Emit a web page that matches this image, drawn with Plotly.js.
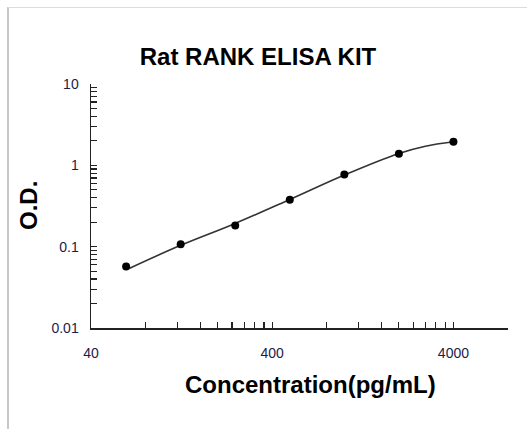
<!DOCTYPE html>
<html>
<head>
<meta charset="utf-8">
<script src="https://cdn.plot.ly/plotly-3.0.1.min.js"></script>
<style>
html,body{margin:0;padding:0;background:#fff;}
#frame{position:absolute;left:7px;top:7px;width:600px;height:500px;border-left:2px solid #c8c8c8;border-top:1px solid #dcdcdc;}
#chart{position:absolute;left:0;top:0;width:527px;height:429px;}
</style>
</head>
<body>
<div id="frame"></div>
<div id="chart"></div>
<script>
// Measured standards
const concentration = [62.5, 125, 250, 500, 1000, 2000, 4000];
const od = [0.057, 0.107, 0.182, 0.377, 0.774, 1.39, 1.95];
// Fitted curve
const curveConc = [65, 125, 250, 500, 1000, 2000, 2800, 4000];
const curveOd = [0.054, 0.104, 0.193, 0.38, 0.76, 1.40, 1.72, 1.95];
// Axis ticks
const xTickVals = [40,80,120,160,200,240,280,320,360,400,800,1200,1600,2000,2400,2800,3200,3600,4000,8000];
const xTickText = ["40","","","","","","","","","400","","","","","","","","","4000",""];
const yTickVals = [0.01,0.02,0.03,0.04,0.05,0.06,0.07,0.08,0.09,0.1,0.2,0.3,0.4,0.5,0.6,0.7,0.8,0.9,1,2,3,4,5,6,7,8,9,10];
const yTickText = yTickVals.map(v => ({0.01:"0.01",0.1:"0.1",1:"1",10:"10"}[v] || ""));
const titleText = "Rat RANK ELISA KIT";
const xTitle = "Concentration(pg/mL)";
const yTitle = "O.D.";

const tickFont = {family: "Liberation Sans, Arial, sans-serif", size: 14, color: "#1c1c48"};
const boldFont = {family: "Liberation Sans, Arial, sans-serif", size: 24, color: "#000"};

const traces = [
  {x: curveConc, y: curveOd, type: "scatter", mode: "lines",
   line: {color: "#333", width: 1.6, shape: "spline", smoothing: 1}, hoverinfo: "skip"},
  {x: concentration, y: od, type: "scatter", mode: "markers",
   marker: {color: "#000", size: 8}}
];

const axisCommon = {
  type: "log", showgrid: false, zeroline: false, showline: true,
  linecolor: "#222", linewidth: 1.5, ticks: "inside", ticklen: 6,
  tickcolor: "#222", tickwidth: 1.2, tickfont: tickFont, tickmode: "array"
};

const layout = {
  width: 527, height: 429,
  margin: {l: 91, r: 19, t: 84, b: 101, pad: 0},
  paper_bgcolor: "rgba(0,0,0,0)", plot_bgcolor: "rgba(0,0,0,0)",
  showlegend: false,
  title: {text: "<b>" + titleText + "</b>", font: boldFont, xref: "container", yref: "container",
          x: 258/527, xanchor: "center", y: 1 - 57/429, yanchor: "middle"},
  xaxis: Object.assign({}, axisCommon, {
    range: [Math.log10(40), Math.log10(8000)],
    tickvals: xTickVals, ticktext: xTickText, ticklabelstandoff: 12
  }),
  yaxis: Object.assign({}, axisCommon, {
    range: [-2, 1],
    tickvals: yTickVals, ticktext: yTickText, ticklabelstandoff: 8
  }),
  annotations: [
    {text: "<b>" + xTitle + "</b>", xref: "paper", yref: "paper",
     x: (310-91)/417, y: -(384-328)/244, xanchor: "center", yanchor: "middle",
     showarrow: false, font: boldFont},
    {text: "<b>" + yTitle + "</b>", xref: "paper", yref: "paper",
     x: -(91-28)/417, y: 0.5, xanchor: "center", yanchor: "middle", textangle: -90,
     showarrow: false, font: boldFont}
  ]
};

Plotly.newPlot("chart", traces, layout, {displayModeBar: false, staticPlot: true});
</script>
</body>
</html>
